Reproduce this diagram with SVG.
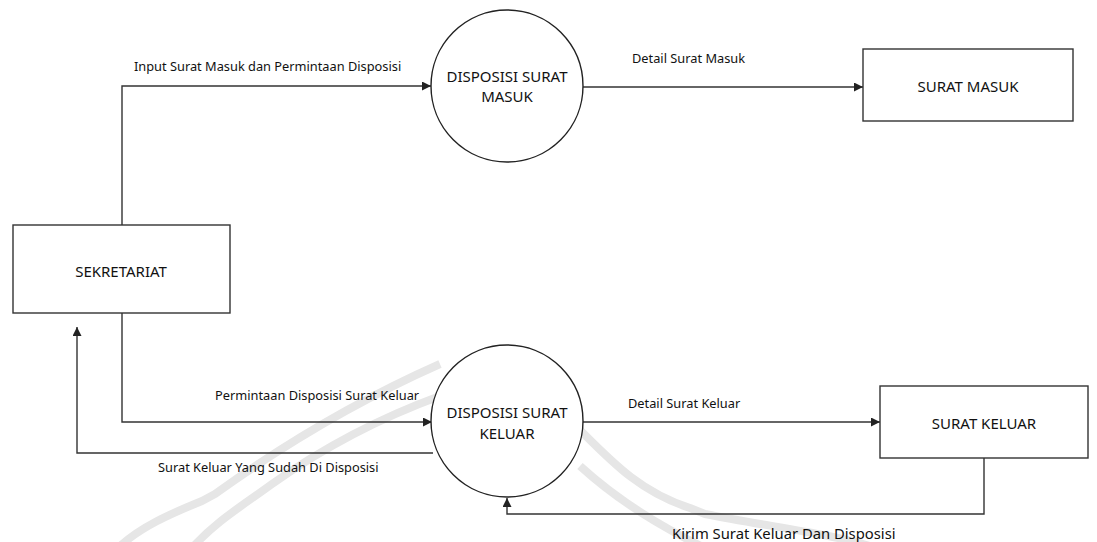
<svg xmlns="http://www.w3.org/2000/svg" width="1097" height="542" viewBox="0 0 1097 542">
<defs>
<style>
.wm{fill:none;stroke:#e6e6e6;stroke-width:8;stroke-linecap:butt;stroke-linejoin:round}
.box{fill:#fff;stroke:#333;stroke-width:1.4}
.proc{fill:#fff;stroke:#222;stroke-width:1.4}
.nt{font-family:"Noto Sans","Open Sans",sans-serif;font-size:15px;fill:#111;text-anchor:middle}
.lbl{font-family:"Noto Sans","Open Sans",sans-serif;font-size:12.8px;fill:#111}
.ln{fill:none;stroke:#333;stroke-width:1.4}
</style>
<marker id="arr" viewBox="0 0 10 10" refX="10" refY="5" markerWidth="9" markerHeight="9" markerUnits="userSpaceOnUse" orient="auto">
<path d="M0,0 L10,5 L0,10 z" fill="#222"/>
</marker>
</defs>
<rect width="1097" height="542" fill="#fff"/>
<g id="watermark">
<path class="wm" d="M440 364 C370 395 290 440 215 494 L202 501 C170 514 140 527 118 548"/>
<path class="wm" d="M440 396 C380 418 320 450 272 484 C242 506 215 522 192 548"/>
<path class="wm" d="M578 428 C612 462 640 492 690 508 L705 514 C770 527 830 533 876 548"/>
<path class="wm" d="M580 466 C615 498 655 524 705 548"/>
</g>
<g id="connectors">
<polyline class="ln" points="122,225 122,86 431,86" marker-end="url(#arr)"/>
<line class="ln" x1="583" y1="87" x2="863" y2="87" marker-end="url(#arr)"/>
<polyline class="ln" points="122,313 122,422 432,422" marker-end="url(#arr)"/>
<polyline class="ln" points="433,453 77,453 77,327" marker-end="url(#arr)"/>
<line class="ln" x1="583" y1="422" x2="880" y2="422" marker-end="url(#arr)"/>
<polyline class="ln" points="984,458 984,514 507,514 507,498" marker-end="url(#arr)"/>
<text class="lbl" x="134" y="71">Input Surat Masuk dan Permintaan Disposisi</text>
<text class="lbl" x="632" y="63">Detail Surat Masuk</text>
<text class="lbl" x="215" y="400">Permintaan Disposisi Surat Keluar</text>
<text class="lbl" x="158" y="472">Surat Keluar Yang Sudah Di Disposisi</text>
<text class="lbl" x="628" y="408">Detail Surat Keluar</text>
<text class="lbl" x="672" y="539" style="font-size:14.8px">Kirim Surat Keluar Dan Disposisi</text>
</g>
<g id="sekretariat">
<rect class="box" x="13" y="225" width="217" height="88"/>
<text class="nt" x="121" y="277">SEKRETARIAT</text>
</g>
<g id="disposisi-surat-masuk">
<circle class="proc" cx="507" cy="86" r="76"/>
<text class="nt" x="507" y="82">DISPOSISI SURAT</text>
<text class="nt" x="507" y="102">MASUK</text>
</g>
<g id="surat-masuk">
<rect class="box" x="863" y="49" width="210" height="72"/>
<text class="nt" x="968" y="92">SURAT MASUK</text>
</g>
<g id="disposisi-surat-keluar">
<circle class="proc" cx="507" cy="421" r="76"/>
<text class="nt" x="507" y="418">DISPOSISI SURAT</text>
<text class="nt" x="507" y="439">KELUAR</text>
</g>
<g id="surat-keluar">
<rect class="box" x="880" y="386" width="208" height="72"/>
<text class="nt" x="984" y="429">SURAT KELUAR</text>
</g>
</svg>
